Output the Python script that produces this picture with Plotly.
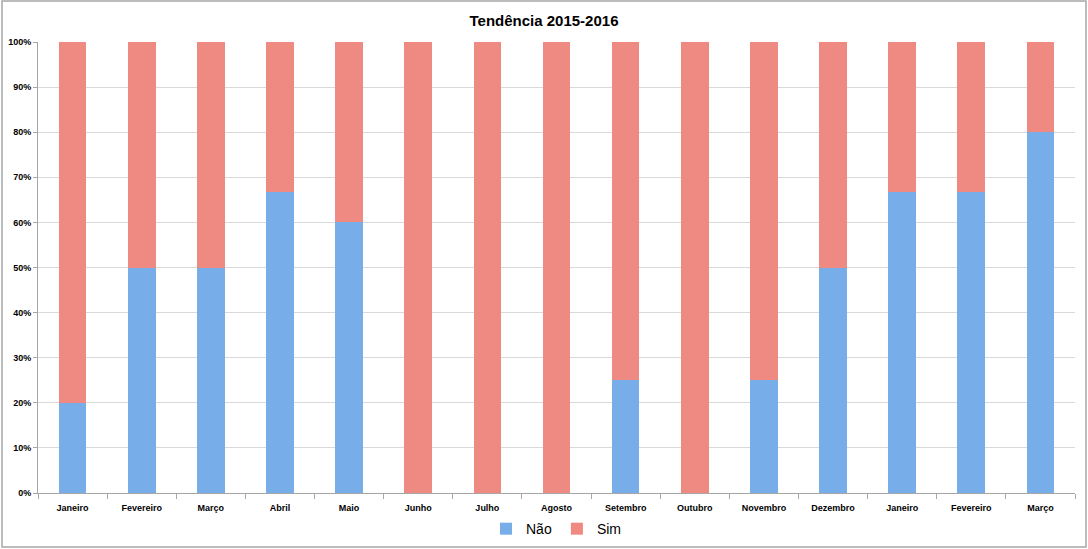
import plotly.graph_objects as go

categories = ["Janeiro", "Fevereiro", "Março", "Abril", "Maio", "Junho", "Julho",
              "Agosto", "Setembro", "Outubro", "Novembro", "Dezembro",
              "Janeiro", "Fevereiro", "Março"]
nao = [20, 50, 50, 66.7, 60, 0, 0, 0, 25, 0, 25, 50, 66.7, 66.7, 80]
sim = [80, 50, 50, 33.3, 40, 100, 100, 100, 75, 100, 75, 50, 33.3, 33.3, 20]
y_ticks = [0, 10, 20, 30, 40, 50, 60, 70, 80, 90, 100]

xpos = list(range(len(categories)))

fig = go.Figure()
fig.add_trace(go.Bar(x=xpos, y=nao, name="Não",
                     marker=dict(color="#77ade9", line=dict(width=0))))
fig.add_trace(go.Bar(x=xpos, y=sim, name="Sim",
                     marker=dict(color="#ef8a83", line=dict(width=0))))

font_family = "Liberation Sans, Arial, sans-serif"

fig.update_layout(
    barmode="stack",
    bargap=0.6,
    width=1088, height=549,
    margin=dict(l=38, r=13, t=42, b=56, autoexpand=False),
    paper_bgcolor="white",
    plot_bgcolor="white",
    title=dict(text="<b>Tendência 2015-2016</b>", x=0.5, xanchor="center",
               y=0.963, yanchor="middle",
               font=dict(family=font_family, size=15, color="#000000")),
    font=dict(family=font_family, color="#000000"),
    xaxis=dict(
        tickmode="array", tickvals=xpos,
        ticktext=["<b>%s</b>" % c for c in categories],
        tickfont=dict(size=9),
        ticklabelstandoff=6,
        range=[-0.5, len(categories) - 0.5],
        showgrid=False, zeroline=False,
        showline=True, linecolor="#a6a6a6", linewidth=1,
        ticks="",
        minor=dict(tick0=-0.5, dtick=1, ticks="outside", ticklen=5,
                   tickcolor="#a6a6a6", showgrid=False),
    ),
    yaxis=dict(
        tickmode="array", tickvals=y_ticks,
        ticktext=["<b>%d%%</b>" % v for v in y_ticks],
        tickfont=dict(size=9),
        range=[0, 100],
        showgrid=True, gridcolor="#d9d9d9", gridwidth=1,
        zeroline=False,
        showline=True, linecolor="#a6a6a6", linewidth=1,
        ticks="outside", ticklen=4, tickcolor="#a6a6a6",
    ),
    legend=dict(orientation="h", x=0.5, xanchor="center", y=-0.08, yanchor="middle",
                font=dict(size=14, family=font_family, color="#000000"),
                bgcolor="rgba(0,0,0,0)",
                itemwidth=30, traceorder="normal"),
    shapes=[dict(type="rect", xref="paper", yref="paper",
                 x0=-0.0347, x1=1.0106, y0=-0.1197, y1=1.0909,
                 line=dict(color="#a6a6a6", width=1.5), layer="below")],
)

fig.write_html("out.html",
               config={"displayModeBar": False},
               post_script="document.body.style.margin='0';document.body.style.overflow='hidden';")
